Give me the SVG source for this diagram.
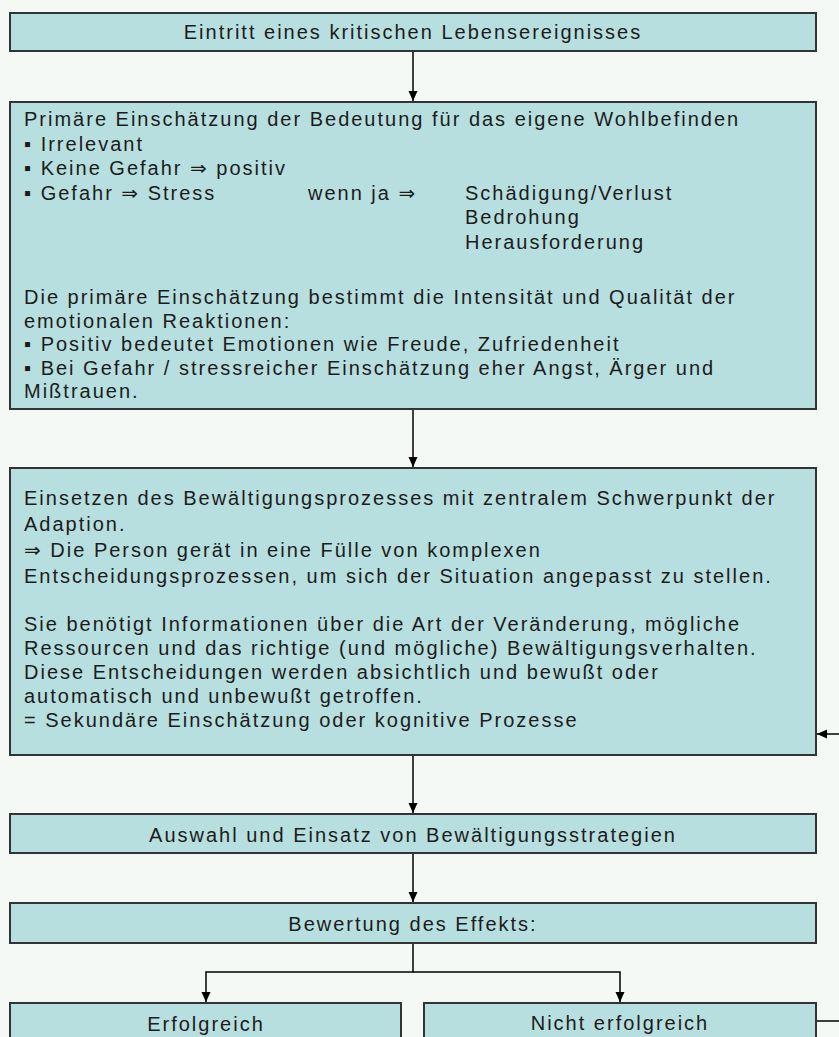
<svg xmlns="http://www.w3.org/2000/svg" width="839" height="1037" viewBox="0 0 839 1037">
<style>
  .box { fill: #b7dfdf; stroke: #333333; stroke-width: 2; }
  .t { font-family: "Liberation Sans", Arial, "DejaVu Sans", sans-serif; font-size: 20px; letter-spacing: 2px; fill: #1c1c1c; }
  .c { text-anchor: middle; }
  .edge { fill: none; stroke: #000000; stroke-width: 1.5; }
</style>
<defs>
  <marker id="ah" markerUnits="userSpaceOnUse" markerWidth="10" markerHeight="10" refX="10" refY="4.5" orient="auto">
    <path d="M0,0 L10,4.5 L0,9 Z" fill="#000000"/>
  </marker>
</defs>
<rect x="0" y="0" width="839" height="1037" fill="#f5f9f6"/>

<g id="connectors">
  <path class="edge" d="M413,51 V101" marker-end="url(#ah)"/>
  <path class="edge" d="M413,409 V467" marker-end="url(#ah)"/>
  <path class="edge" d="M413,755 V813" marker-end="url(#ah)"/>
  <path class="edge" d="M413,853 V902" marker-end="url(#ah)"/>
  <path class="edge" d="M413,943 V972 H206 V1002" marker-end="url(#ah)"/>
  <path class="edge" d="M413,972 H620 V1002" marker-end="url(#ah)"/>
  <path class="edge" d="M816,1021 H852 V734 H817" marker-end="url(#ah)"/>
</g>

<g id="node-ereignis">
  <rect class="box" x="10" y="13" width="806" height="38"/>
  <text class="t c" x="413" y="39">Eintritt eines kritischen Lebensereignisses</text>
</g>

<g id="node-primaer">
  <rect class="box" x="10" y="102" width="806" height="307"/>
  <text class="t" x="24" y="126">Primäre Einschätzung der Bedeutung für das eigene Wohlbefinden</text>
  <text class="t" x="24" y="150.5">▪ Irrelevant</text>
  <text class="t" x="24" y="175">▪ Keine Gefahr ⇒ positiv</text>
  <text class="t" x="24" y="199.5">▪ Gefahr ⇒ Stress</text>
  <text class="t" x="308" y="199.5">wenn ja ⇒</text>
  <text class="t" x="465" y="199.5">Schädigung/Verlust</text>
  <text class="t" x="465" y="224">Bedrohung</text>
  <text class="t" x="465" y="248.5">Herausforderung</text>
  <text class="t" x="24" y="304">Die primäre Einschätzung bestimmt die Intensität und Qualität der</text>
  <text class="t" x="24" y="327.5">emotionalen Reaktionen:</text>
  <text class="t" x="24" y="351">▪ Positiv bedeutet Emotionen wie Freude, Zufriedenheit</text>
  <text class="t" x="24" y="374.5">▪ Bei Gefahr / stressreicher Einschätzung eher Angst, Ärger und</text>
  <text class="t" x="24" y="398">Mißtrauen.</text>
</g>

<g id="node-bewaeltigung">
  <rect class="box" x="10" y="468" width="806" height="287"/>
  <text class="t" x="24" y="505">Einsetzen des Bewältigungsprozesses mit zentralem Schwerpunkt der</text>
  <text class="t" x="24" y="531">Adaption.</text>
  <text class="t" x="24" y="557">⇒ Die Person gerät in eine Fülle von komplexen</text>
  <text class="t" x="24" y="583">Entscheidungsprozessen, um sich der Situation angepasst zu stellen.</text>
  <text class="t" x="24" y="631">Sie benötigt Informationen über die Art der Veränderung, mögliche</text>
  <text class="t" x="24" y="655">Ressourcen und das richtige (und mögliche) Bewältigungsverhalten.</text>
  <text class="t" x="24" y="679">Diese Entscheidungen werden absichtlich und bewußt oder</text>
  <text class="t" x="24" y="703">automatisch und unbewußt getroffen.</text>
  <text class="t" x="24" y="727">= Sekundäre Einschätzung oder kognitive Prozesse</text>
</g>

<g id="node-auswahl">
  <rect class="box" x="10" y="814" width="806" height="39"/>
  <text class="t c" x="413" y="841.5">Auswahl und Einsatz von Bewältigungsstrategien</text>
</g>

<g id="node-bewertung">
  <rect class="box" x="10" y="903" width="806" height="40"/>
  <text class="t c" x="413" y="931">Bewertung des Effekts:</text>
</g>

<g id="node-erfolgreich">
  <rect class="box" x="10" y="1003" width="391" height="50"/>
  <text class="t c" x="206" y="1031">Erfolgreich</text>
</g>

<g id="node-nicht-erfolgreich">
  <rect class="box" x="424" y="1003" width="392" height="50"/>
  <text class="t c" x="620" y="1029.5">Nicht erfolgreich</text>
</g>
</svg>
